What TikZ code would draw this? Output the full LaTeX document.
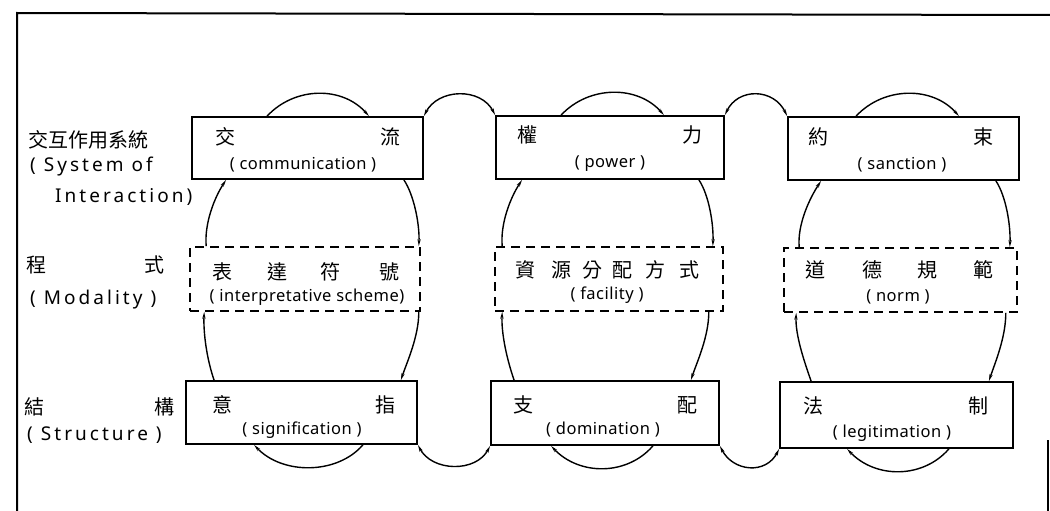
\documentclass[tikz,border=0pt]{standalone}
\usepackage{fontspec}
\setmainfont{Noto Sans}
\newfontfamily\cjk{Noto Sans CJK TC}
\newfontfamily\lat[LetterSpace=3]{Noto Sans}
\newfontfamily\latw[LetterSpace=16]{Noto Sans}
\usetikzlibrary{arrows.meta,calc}
\tikzset{
  solidbox/.style={draw, line width=1.8pt, inner sep=0pt},
  dashbox/.style={draw, line width=1.6pt, dash pattern=on 9pt off 6pt, inner sep=0pt},
  cj/.style={font=\cjk\fontsize{20}{22}\selectfont, inner sep=0pt},
  la/.style={font=\lat\fontsize{16.5}{18}\selectfont, inner sep=0pt},
  lab/.style={font=\latw\fontsize{19}{21}\selectfont, inner sep=0pt, anchor=west},
  arc/.style={line width=1.4pt, -{Stealth[length=7pt,width=3.2pt]}},
  darc/.style={line width=1.4pt, {Stealth[length=7pt,width=3.2pt]}-{Stealth[length=7pt,width=3.2pt]}},
}
\begin{document}
\begin{tikzpicture}[x=1pt,y=-1pt]
\fill[white] (0,0) rectangle (1050,511);
\useasboundingbox (0,0) rectangle (1050,511);
% frame
\draw[line width=2pt] (17,511) -- (17,13) -- (1050,15);
\draw[line width=1.5pt] (1048,440) -- (1048,511);

% boxes
\node[solidbox, minimum width=231pt, minimum height=62pt] (b11) at (307.5,148) {};
\node[solidbox, minimum width=228pt, minimum height=63pt] (b12) at (610,147.5) {};
\node[solidbox, minimum width=231pt, minimum height=63pt] (b13) at (903.5,148.5) {};
\node[dashbox, minimum width=230pt, minimum height=64pt] (b21) at (305,279) {};
\node[dashbox, minimum width=228pt, minimum height=64pt] (b22) at (609,279) {};
\node[dashbox, minimum width=233pt, minimum height=64pt] (b23) at (900.5,280) {};
\node[solidbox, minimum width=231pt, minimum height=63pt] (b31) at (301.5,412.5) {};
\node[solidbox, minimum width=228pt, minimum height=64pt] (b32) at (605,413) {};
\node[solidbox, minimum width=233pt, minimum height=66pt] (b33) at (896.5,415) {};

% left labels
\node[cj, anchor=west] (l1) at (28,140) {交互作用系統};
\node[lab] (l2) at (30,167) {( System of};
\node[lab] (l3) at (55,197) {Interaction)};
\node[cj] (l4a) at (37,265) {程};
\node[cj] (l4b) at (154,265) {式};
\node[lab] (l5) at (30,300) {( Modality )};
\node[cj] (l6a) at (34,407) {結};
\node[cj] (l6b) at (164,407) {構};
\node[lab] (l7) at (27,435) {( Structure )};

% box texts row 1
\node[cj] (t11a) at (225,137) {交};
\node[cj] (t11b) at (390,137) {流};
\node[la] (t11c) at (303,165) {( communication )};
\node[cj] (t12a) at (527,135) {權};
\node[cj] (t12b) at (692,135) {力};
\node[la] (t12c) at (610,164) {( power )};
\node[cj] (t13a) at (818,137) {約};
\node[cj] (t13b) at (983,137) {束};
\node[la] (t13c) at (902,165) {( sanction )};
% row 2
\node[cj] (t21a) at (222,272) {表};
\node[cj] (t21b) at (277,272) {達};
\node[cj] (t21c) at (330,272) {符};
\node[cj] (t21d) at (389,272) {號};
\node[la] (t21e) at (307,297) {( interpretative scheme)};
\node[cj] (t22a) at (525,270) {資};
\node[cj] (t22b) at (561,270) {源};
\node[cj] (t22c) at (592,270) {分};
\node[cj] (t22d) at (622,270) {配};
\node[cj] (t22e) at (655,270) {方};
\node[cj] (t22f) at (689,270) {式};
\node[la] (t22g) at (607,295) {( facility )};
\node[cj] (t23a) at (815,270) {道};
\node[cj] (t23b) at (872,270) {德};
\node[cj] (t23c) at (927,270) {規};
\node[cj] (t23d) at (983,270) {範};
\node[la] (t23e) at (898,297) {( norm )};
% row 3
\node[cj] (t31a) at (222,405) {意};
\node[cj] (t31b) at (385,405) {指};
\node[la] (t31c) at (302,430) {( signification )};
\node[cj] (t32a) at (523,405) {支};
\node[cj] (t32b) at (687,405) {配};
\node[la] (t32c) at (603,430) {( domination )};
\node[cj] (t33a) at (813,406) {法};
\node[cj] (t33b) at (978,406) {制};
\node[la] (t33c) at (892,433) {( legitimation )};

% column 1 loop
\draw[arc] ([xshift=76pt]b11.north west) .. controls +(28,-30) and +(-26,-30) .. ([xshift=-55pt]b11.north east);
\draw[arc] ([xshift=-20pt]b11.south east) .. controls +(10,15) and +(1,-22) .. ([xshift=-2pt]b21.north east);
\draw[arc] ([xshift=-2pt]b21.south east) .. controls +(0,25) and +(6,-18) .. ([xshift=-17pt]b31.north east);
\draw[arc] ([xshift=-55pt]b31.south east) .. controls +(-26,30) and +(28,30) .. ([xshift=69pt]b31.south west);
\draw[arc] ([xshift=29pt]b31.north west) .. controls +(-7,-20) and +(-1,22) .. ([xshift=15pt]b21.south west);
\draw[arc] ([xshift=17pt]b21.north west) .. controls +(-2,-22) and +(-12,18) .. ([xshift=35pt]b11.south west);

% column 2 loop
\draw[arc] ([xshift=66pt]b12.north west) .. controls +(28,-30) and +(-26,-30) .. ([xshift=-61pt]b12.north east);
\draw[arc] ([xshift=-26pt]b12.south east) .. controls +(10,15) and +(1,-22) .. ([xshift=-11pt]b22.north east);
\draw[arc] ([xshift=-15pt]b22.south east) .. controls +(0,25) and +(6,-18) .. ([xshift=-29pt]b32.north east);
\draw[arc] ([xshift=-67pt]b32.south east) .. controls +(-26,30) and +(28,30) .. ([xshift=61pt]b32.south west);
\draw[arc] ([xshift=24pt]b32.north west) .. controls +(-7,-20) and +(-1,22) .. ([xshift=8pt]b22.south west);
\draw[arc] ([xshift=8pt]b22.north west) .. controls +(-2,-22) and +(-12,18) .. ([xshift=27pt]b12.south west);

% column 3 loop
\draw[arc] ([xshift=69pt]b13.north west) .. controls +(28,-30) and +(-26,-30) .. ([xshift=-61pt]b13.north east);
\draw[arc] ([xshift=-24pt]b13.south east) .. controls +(10,15) and +(1,-22) .. ([xshift=-8pt]b23.north east);
\draw[arc] ([xshift=-12pt]b23.south east) .. controls +(0,25) and +(6,-18) .. ([xshift=-25pt]b33.north east);
\draw[arc] ([xshift=-65pt]b33.south east) .. controls +(-26,30) and +(28,30) .. ([xshift=68pt]b33.south west);
\draw[arc] ([xshift=32pt]b33.north west) .. controls +(-7,-20) and +(-1,22) .. ([xshift=13pt]b23.south west);
\draw[arc] ([xshift=16pt]b23.north west) .. controls +(-2,-22) and +(-12,18) .. ([xshift=34pt]b13.south west);

% links between columns
\draw[darc] (b11.north east) .. controls +(14,-28) and +(-14,-28) .. (b12.north west);
\draw[darc] (b12.north east) .. controls +(13,-28) and +(-13,-28) .. (b13.north west);
\draw[darc] (b31.south east) .. controls +(14,27) and +(-14,27) .. (b32.south west);
\draw[darc] (b32.south east) .. controls +(13,26) and +(-13,26) .. (b33.south west);
\end{tikzpicture}
\end{document}
